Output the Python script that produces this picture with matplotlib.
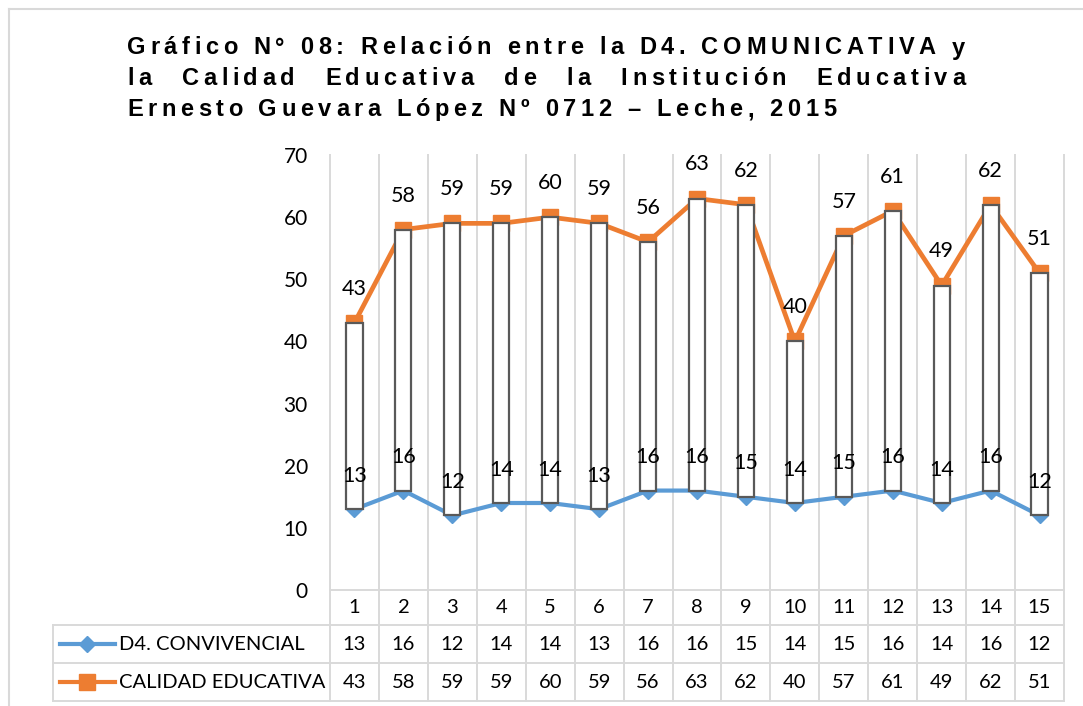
import matplotlib
matplotlib.use("Agg")
import matplotlib.pyplot as plt
import numpy as np
from matplotlib import font_manager
from matplotlib.ft2font import FT2Font
from matplotlib.transforms import blended_transform_factory
from matplotlib.lines import Line2D

# ---------------- data ----------------
categories = ["1", "2", "3", "4", "5", "6", "7", "8", "9", "10", "11", "12", "13", "14", "15"]
d4_convivencial = [13, 16, 12, 14, 14, 13, 16, 16, 15, 14, 15, 16, 14, 16, 12]
calidad_educativa = [43, 58, 59, 59, 60, 59, 56, 63, 62, 40, 57, 61, 49, 62, 51]
series_names = ["D4. CONVIVENCIAL", "CALIDAD EDUCATIVA"]
title_lines = [
    "Gráfico N° 08: Relación entre la D4. COMUNICATIVA y",
    "la Calidad Educativa de la Institución Educativa",
    "Ernesto Guevara López Nº 0712 – Leche, 2015",
]
yticks = [0, 10, 20, 30, 40, 50, 60, 70]

BLUE = "#5B9BD5"
ORANGE = "#ED7D31"
GRID = "#D9D9D9"
BAR_EDGE = "#595959"
FONT = "Lato"

W, H = 1083, 706
fig = plt.figure(figsize=(W / 100, H / 100), dpi=100)
fig.patch.set_facecolor("white")

# chart-area border (top and left visible)
fig.add_artist(Line2D([8.5 / W, 8.5 / W], [1 - 9 / H, 0], transform=fig.transFigure,
                      color=GRID, lw=1.5))
fig.add_artist(Line2D([8.5 / W, 1], [1 - 9 / H, 1 - 9 / H], transform=fig.transFigure,
                      color=GRID, lw=1.5))

# ---------------- title (letter-spaced, justified) ----------------
tsize = 17
tprop = font_manager.FontProperties(family="Liberation Sans", weight="bold", size=tsize)
tpath = font_manager.findfont(tprop)
ft = FT2Font(tpath)
ft.set_size(tsize, 100)


def adv(ch):
    g = ft.load_char(ord(ch))
    return g.linearHoriAdvance / 65536.0


x_left, x_right = 127, 965
line3_end = 836
baselines = [54.5, 85, 116]

nat3 = sum(adv(c) for c in title_lines[2])
spacing = (line3_end - x_left - nat3) / (len(title_lines[2]) - 1)


def draw_chars(word, x0, yb):
    x = x0
    for c in word:
        fig.text(x / W, 1 - yb / H, c, fontproperties=tprop, ha="left", va="baseline",
                 color="black")
        x += adv(c) + spacing
    return x


def word_width(word):
    return sum(adv(c) for c in word) + spacing * (len(word) - 1)


for i, line in enumerate(title_lines):
    yb = baselines[i]
    words = line.split(" ")
    if i < 2:
        total = sum(word_width(w) for w in words)
        gap = (x_right - x_left - total) / (len(words) - 1)
        x = x_left
        for w in words:
            draw_chars(w, x, yb)
            x += word_width(w) + gap
    else:
        draw_chars(line, x_left, yb)

# ---------------- plot ----------------
ax_l, ax_r, ax_t, ax_b = 330, 1064, 155, 590
ax = fig.add_axes([ax_l / W, 1 - ax_b / H, (ax_r - ax_l) / W, (ax_b - ax_t) / H])
ax.set_facecolor("none")
n = len(categories)
x = np.arange(n)
ax.set_xlim(-0.5, n - 0.5)
ax.set_ylim(0, 70)
ax.set_xticks([])
ax.set_yticks(yticks)
ax.set_yticklabels([str(v) for v in yticks], fontfamily=FONT, fontsize=15)
ax.tick_params(axis="y", length=0, pad=16)
for s in ax.spines.values():
    s.set_visible(False)

trans = blended_transform_factory(ax.transData, ax.transAxes)
axh = ax_b - ax_t
axw = ax_r - ax_l
row_y = [0, -(625 - 590) / axh, -(663 - 590) / axh, -(701 - 590) / axh]
row_c = [(row_y[i] + row_y[i + 1]) / 2 for i in range(3)]
left_col = (53 - ax_l) / axw

# vertical gridlines (through table)
for b in np.arange(-0.5, n, 1.0):
    ax.add_line(Line2D([b, b], [1, row_y[3]], transform=trans, color=GRID, lw=1.4,
                       clip_on=False, zorder=0.5))
# horizontal table lines
ax.add_line(Line2D([0, 1], [0, 0], transform=ax.transAxes, color=GRID, lw=1.4,
                   clip_on=False, zorder=0.5))
for yy in row_y[1:]:
    ax.add_line(Line2D([left_col, 1], [yy, yy], transform=ax.transAxes, color=GRID, lw=1.4,
                       clip_on=False, zorder=0.5))
ax.add_line(Line2D([left_col, left_col], [row_y[1], row_y[3]], transform=ax.transAxes,
                   color=GRID, lw=1.4, clip_on=False, zorder=0.5))

# lines
ax.plot(x, d4_convivencial, color=BLUE, lw=3.0, marker="D", ms=8.5, mec=BLUE, mfc=BLUE,
        zorder=2, solid_joinstyle="round")
ax.plot(x, calidad_educativa, color=ORANGE, lw=3.4, marker="s", ms=12, mec=ORANGE,
        mfc=ORANGE, zorder=2, solid_joinstyle="round")

# up/down bars
lows = np.array(d4_convivencial)
highs = np.array(calidad_educativa)
ax.bar(x, highs - lows, bottom=lows, width=0.33, facecolor="white", edgecolor=BAR_EDGE,
       linewidth=1.6, zorder=3)

# data labels
for xi, v in zip(x, calidad_educativa):
    ax.annotate(str(v), (xi, v), xytext=(0, 24.5), textcoords="offset points", ha="center",
                va="center", fontfamily=FONT, fontsize=15.5, zorder=5)
for xi, v in zip(x, d4_convivencial):
    ax.annotate(str(v), (xi, v), xytext=(0, 24), textcoords="offset points", ha="center",
                va="center", fontfamily=FONT, fontsize=15.5, zorder=5)

# table contents
for xi, c in zip(x, categories):
    ax.text(xi, row_c[0], c, transform=trans, ha="center", va="center", fontfamily=FONT,
            fontsize=14.5, clip_on=False)
for xi, v in zip(x, d4_convivencial):
    ax.text(xi, row_c[1], str(v), transform=trans, ha="center", va="center",
            fontfamily=FONT, fontsize=14.5, clip_on=False)
for xi, v in zip(x, calidad_educativa):
    ax.text(xi, row_c[2], str(v), transform=trans, ha="center", va="center",
            fontfamily=FONT, fontsize=14.5, clip_on=False)

# legend keys in table
kx0, kx1 = (60 - ax_l) / axw, (115 - ax_l) / axw
kxm = (kx0 + kx1) / 2
tx = (119 - ax_l) / axw
for rc, col, mk, ms, name in [(row_c[1], BLUE, "D", 8.5, series_names[0]),
                              (row_c[2], ORANGE, "s", 12, series_names[1])]:
    ax.add_line(Line2D([kx0, kx1], [rc, rc], transform=ax.transAxes, color=col, lw=3.0,
                       clip_on=False))
    ax.add_line(Line2D([kxm], [rc], transform=ax.transAxes, color=col, marker=mk, ms=ms,
                       mec=col, mfc=col, clip_on=False))
    ax.text(tx, rc, name, transform=ax.transAxes, ha="left", va="center", fontfamily=FONT,
            fontsize=14.5, clip_on=False)

fig.savefig("out.png", dpi=100)
